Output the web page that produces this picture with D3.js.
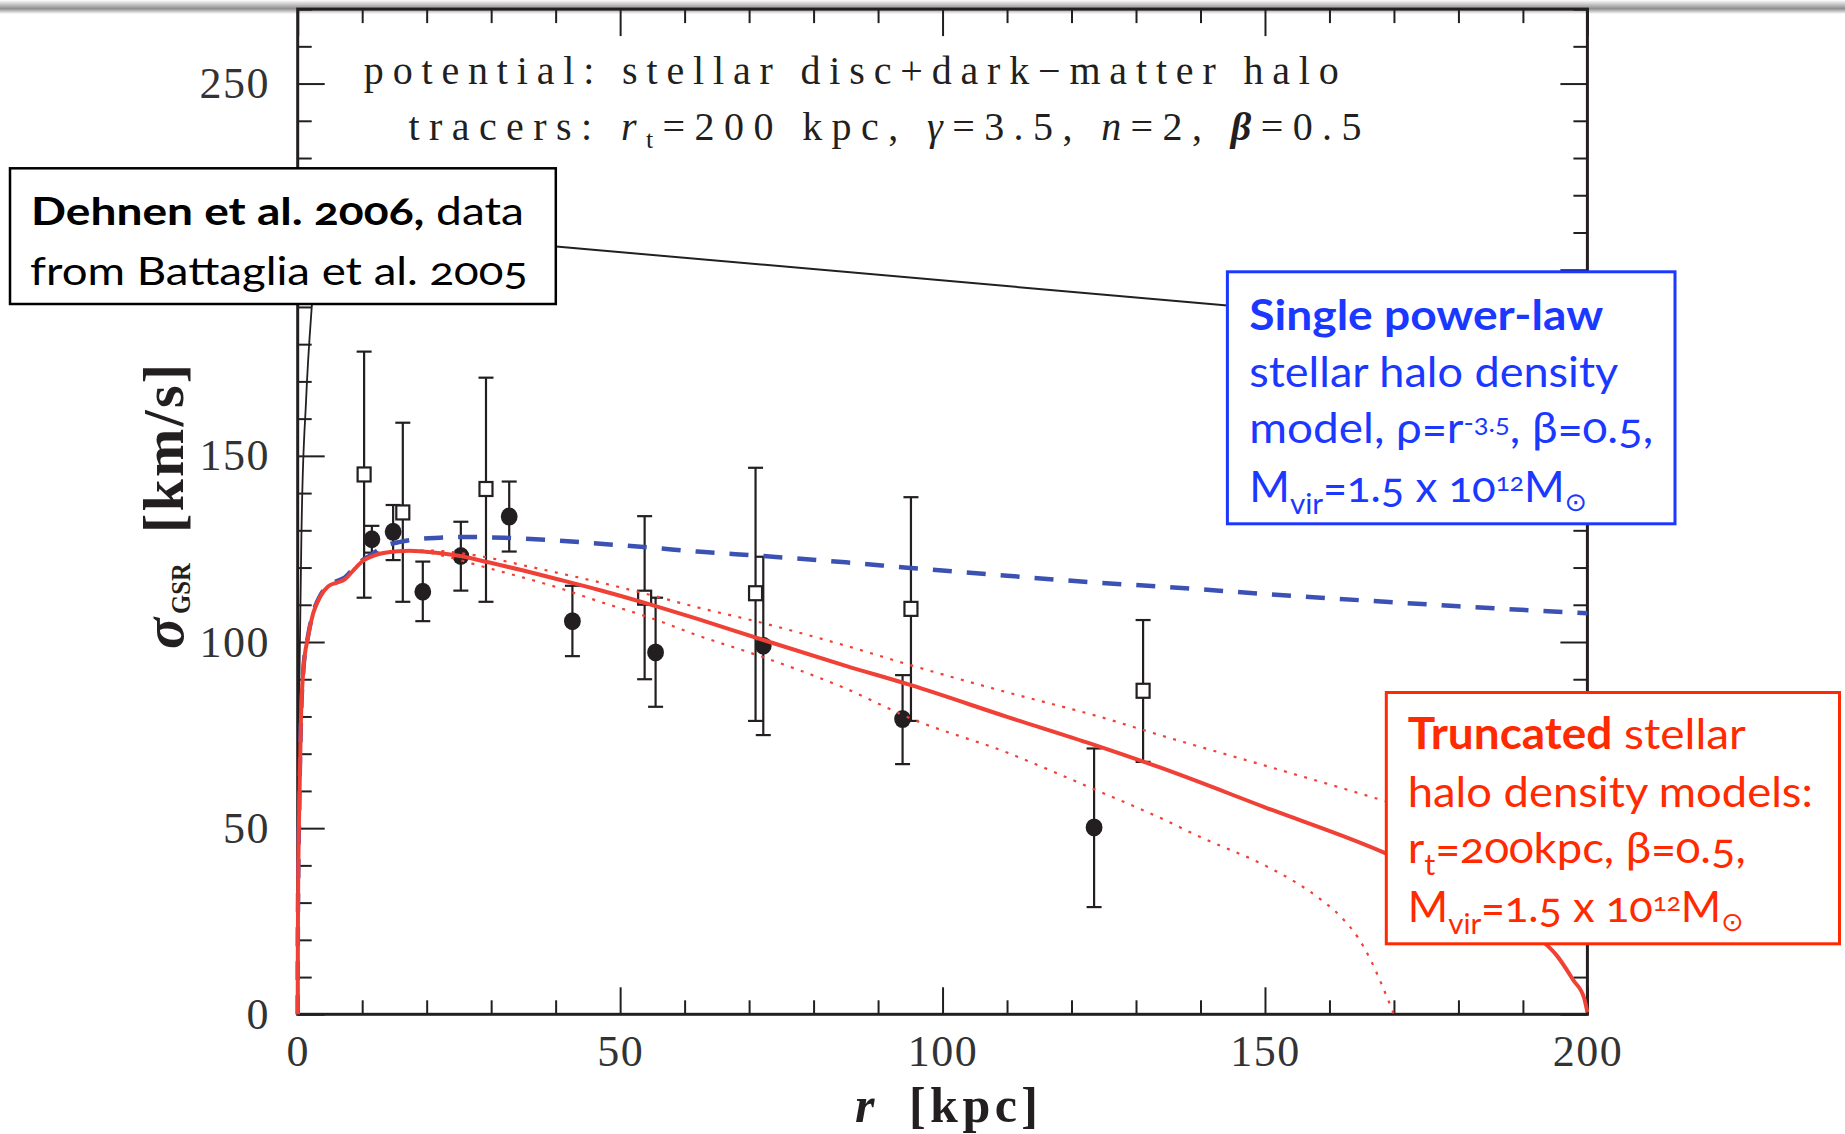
<!DOCTYPE html>
<html>
<head>
<meta charset="utf-8">
<script src="https://cdn.jsdelivr.net/npm/d3@7"></script>
<style>
  html, body { margin: 0; padding: 0; background: #fff; }
  svg { display: block; }
  .box text { font-family: Lato, "Open Sans", "Noto Sans", sans-serif; font-variant-numeric: oldstyle-nums; }
  .serif { font-family: "Liberation Serif", "DejaVu Serif", serif; }
  .pre { white-space: pre; }
</style>
</head>
<body>
<script>
// ---- measured velocity dispersion, GSR frame (r in kpc, sigma in km/s) ----
const filledR     = [11.5, 14.8, 19.4, 25.3, 32.8, 42.6, 55.5, 72.2, 93.8, 123.5];
const filledSigma = [127.6, 129.6, 113.5, 123.1, 133.7, 105.6, 97.2, 99.0, 79.3, 50.2];
const filledLow   = [124.0, 122.0, 105.6, 113.8, 124.3, 96.2, 82.6, 75.0, 67.2, 28.8];
const filledHigh  = [131.2, 136.8, 121.6, 132.3, 143.1, 115.1, 111.9, 122.9, 91.1, 71.4];

const openR     = [10.3, 16.3, 29.2, 53.8, 71.0, 95.1, 131.1];
const openSigma = [145.0, 134.8, 141.1, 111.9, 113.1, 108.9, 86.9];
const openLow   = [111.9, 110.8, 110.8, 90.0, 78.8, 78.8, 67.8];
const openHigh  = [178.0, 158.9, 171.0, 133.8, 146.8, 138.9, 105.9];

// ---- model curves: [r, sigma] ----
const innerRise = [[0,0],[0.05,43],[0.25,88],[0.62,132.7],[1.3,165],[2.2,190.5],[3.2,210],[4.0,222]];

const powerLawModel = [[0,0],[0.02,20],[0.1,40],[0.2,52],[0.5,79],[0.87,92.4],[1.6,101.6],[2.4,107.9],
  [3.5,112.5],[4.7,115.2],[6,116.3],[7.3,117.3],[8.6,119.6],[10,121.9],[11.2,123.2],[13.3,125.6],
  [15.9,126.9],[18.4,127.6],[22,128],[26,128.2],[32,128],[40,127.3],[46.9,126.4],[55,125.3],[62,124.3],
  [72,123.1],[85,121.4],[95,119.9],[110,117.8],[124.4,115.9],[133.7,114.9],[150,112.9],[165,111.2],
  [180,109.6],[200,107.7]];

const truncatedModel = [[0,0],[0.02,20],[0.1,40],[0.2,52],[0.5,79],[0.87,92.4],[1.6,101.4],[2.4,107.7],
  [3.5,112.2],[4.7,114.9],[6,115.9],[7.3,116.8],[8.6,119.2],[10.2,121.9],[11.8,123.2],[13.3,123.9],
  [15.5,124.4],[17.4,124.5],[19.4,124.3],[22.5,123.8],[25.2,123.1],[28.8,121.7],[35,119.2],[40,117],
  [46.9,113.9],[55,109.9],[62,106.2],[72.1,100.6],[85,93.6],[95.1,88.4],[110,79.9],[123.3,72.5],
  [133.7,66.3],[150,55.6],[168.9,43.1],[180,33.8],[188,25.6],[193.7,18.6],[195.2,15.9],[197.8,9.2],
  [199.5,4.3],[200,0.5]];

const truncatedUpper = [[17.4,124.5],[20,124.6],[22.5,124.4],[28.8,122.9],[35,120.6],[40,118.7],
  [46.9,116],[55,112.5],[62,109.3],[71.2,105.5],[85,99],[95,93.8],[110,86.5],[124.4,79.9],[133.7,75],
  [150,66.8],[168.9,57.1],[185,48],[200,38]];

const truncatedLower = [[17.4,124.5],[20,124.1],[22.5,123.2],[28.8,120.2],[35,117.3],[40,114.8],
  [46.9,110.8],[55,106.3],[62,101.8],[71.2,96.5],[85,87.5],[95,79.5],[110,70.3],[123.3,60.6],
  [133.7,52.8],[140,47.6],[150.2,39.8],[155,35.2],[159,30.4],[162,25.8],[164.5,20.4],[166.5,14.2],
  [168.2,7.6],[170,0]];

// ---- axes ----
const xMajor = [0, 50, 100, 150, 200];
const xMinor = d3.range(0, 201, 10).filter(v => v % 50 !== 0);
const yMajor = [0, 50, 100, 150, 200, 250];
const yLabelled = [0, 50, 100, 150, 250];   // 200 sits beneath the citation box
const yMinor = d3.range(0, 271, 10).filter(v => v % 50 !== 0);

// ---- annotation text ----
const headerLine1 = "potential:  stellar  disc+dark\u2212matter  halo";
const dehnenLines = [["Dehnen et al. 2006,", " data"], ["from Battaglia et al. 2005"]];

const W = 1845, H = 1134;
const ink = "#231f20";
const X0 = 297.7, X1 = 1587.4, Y0 = 1014.3, Y1 = 9.1;

const x = d3.scaleLinear().domain([0, 200]).range([X0, X1]);
const y = d3.scaleLinear().domain([0, 270]).range([Y0, Y1]);

const svg = d3.select("body").append("svg").attr("width", W).attr("height", H);

// soft edge along the top of the page
const defs = svg.append("defs");
const grad = defs.append("linearGradient").attr("id", "edge")
  .attr("x1", 0).attr("y1", 0).attr("x2", 0).attr("y2", 1);
grad.append("stop").attr("offset", 0).attr("stop-color", "#ffffff");
grad.append("stop").attr("offset", 0.62).attr("stop-color", "#8e8e8e");
grad.append("stop").attr("offset", 1).attr("stop-color", "#ffffff");
svg.append("rect").attr("x", 0).attr("y", 0).attr("width", W).attr("height", 14).attr("fill", "url(#edge)");

// ---- ticks on all four sides, pointing inward ----
const axes = svg.append("g");
function tickSet(gen, values, size, transform, fmt) {
  const g = axes.append("g").attr("transform", transform)
    .call(gen.tickValues(values).tickSize(size).tickSizeOuter(0).tickFormat(fmt || (() => "")));
  g.select(".domain").remove();
  g.selectAll(".tick line").attr("stroke", ink).attr("stroke-width", 2);
  return g;
}
const bottomMajor = tickSet(d3.axisBottom(x), xMajor, -27, `translate(0,${Y0})`, d3.format("d"));
tickSet(d3.axisBottom(x), xMinor, -14, `translate(0,${Y0})`);
tickSet(d3.axisTop(x), xMajor, -27, `translate(0,${Y1})`);
tickSet(d3.axisTop(x), xMinor, -14, `translate(0,${Y1})`);
const leftMajor = tickSet(d3.axisLeft(y), yMajor, -27, `translate(${X0},0)`,
  d => yLabelled.includes(d) ? String(d) : "");
tickSet(d3.axisLeft(y), yMinor, -14, `translate(${X0},0)`);
tickSet(d3.axisRight(y), yMajor, -27, `translate(${X1},0)`);
tickSet(d3.axisRight(y), yMinor, -14, `translate(${X1},0)`);

bottomMajor.attr("font-family", "Liberation Serif, DejaVu Serif, serif").attr("font-size", 44);
bottomMajor.selectAll(".tick text").attr("fill", "#333").attr("y", 1066 - Y0).attr("dy", null)
  .attr("letter-spacing", 1.5);
leftMajor.attr("font-family", "Liberation Serif, DejaVu Serif, serif").attr("font-size", 44);
leftMajor.selectAll(".tick text").attr("fill", "#333").attr("x", -27.7).attr("dy", "0.32em")
  .attr("letter-spacing", 1.5);

// frame
svg.append("rect").attr("x", X0).attr("y", Y1).attr("width", X1 - X0).attr("height", Y0 - Y1)
  .attr("fill", "none").attr("stroke", ink).attr("stroke-width", 3);

// ---- data points with error bars ----
const pts = svg.append("g").attr("stroke", ink).attr("stroke-width", 2.2);
function errorBars(rs, lo, hi) {
  rs.forEach((r, i) => {
    const cx = x(r);
    pts.append("line").attr("x1", cx).attr("x2", cx).attr("y1", y(lo[i])).attr("y2", y(hi[i]));
    [lo[i], hi[i]].forEach(v => pts.append("line")
      .attr("x1", cx - 7.5).attr("x2", cx + 7.5).attr("y1", y(v)).attr("y2", y(v)));
  });
}
errorBars(openR, openLow, openHigh);
errorBars(filledR, filledLow, filledHigh);
pts.selectAll("rect.open").data(openR).join("rect").attr("class", "open")
  .attr("x", d => x(d) - 6.5).attr("y", (d, i) => y(openSigma[i]) - 7)
  .attr("width", 13).attr("height", 14).attr("fill", "#fff");
pts.selectAll("ellipse.filled").data(filledR).join("ellipse").attr("class", "filled")
  .attr("cx", d => x(d)).attr("cy", (d, i) => y(filledSigma[i]))
  .attr("rx", 8.4).attr("ry", 9).attr("fill", ink).attr("stroke", "none");

// ---- model curves ----
const line = d3.line().x(d => x(d[0])).y(d => y(d[1])).curve(d3.curveMonotoneX);
const curves = svg.append("g").attr("fill", "none");
curves.append("path").attr("d", line(innerRise)).attr("stroke", ink).attr("stroke-width", 1.8);
curves.append("path").attr("d", line(powerLawModel)).attr("stroke", "#3b51b3")
  .attr("stroke-width", 4.5).attr("stroke-dasharray", "19,15");
curves.append("path").attr("d", line(truncatedUpper)).attr("stroke", "#ef4136")
  .attr("stroke-width", 2.2).attr("stroke-dasharray", "3,7.5");
curves.append("path").attr("d", line(truncatedLower)).attr("stroke", "#ef4136")
  .attr("stroke-width", 2.2).attr("stroke-dasharray", "3,7.5");
curves.append("path").attr("d", line(truncatedModel)).attr("stroke", "#ef4136")
  .attr("stroke-width", 4);

// ---- header inside the frame ----
const head = svg.append("g").attr("class", "serif pre").attr("fill", ink).attr("font-size", 40);
head.append("text").attr("x", 363.8).attr("y", 84)
  .attr("textLength", 975).attr("lengthAdjust", "spacing").text(headerLine1);
const h2 = head.append("text").attr("x", 408.5).attr("y", 140)
  .attr("textLength", 953).attr("lengthAdjust", "spacing");
h2.append("tspan").text("tracers:  ");
h2.append("tspan").attr("font-style", "italic").text("r");
h2.append("tspan").attr("font-size", 26).style("baseline-shift", "-8px").text("t");
h2.append("tspan").text("=200 kpc,  ");
h2.append("tspan").attr("font-style", "italic").text("\u03b3");
h2.append("tspan").text("=3.5,  ");
h2.append("tspan").attr("font-style", "italic").text("n");
h2.append("tspan").text("=2,  ");
h2.append("tspan").attr("font-style", "italic").attr("font-weight", "bold").text("\u03b2");
h2.append("tspan").text("=0.5");

// ---- axis titles ----
const xt = svg.append("g").attr("class", "serif").attr("font-weight", "bold").attr("fill", ink).attr("font-size", 50);
xt.append("text").attr("x", 855).attr("y", 1122).attr("font-style", "italic").text("r");
xt.append("text").attr("x", 909).attr("y", 1122).attr("textLength", 129).attr("lengthAdjust", "spacing").text("[kpc]");

const yt = svg.append("g").attr("class", "serif").attr("font-weight", "bold").attr("fill", ink)
  .attr("transform", "rotate(-90)");
yt.append("text").attr("x", -649).attr("y", 183).attr("font-size", 58).attr("font-style", "italic").text("\u03c3");
yt.append("text").attr("x", -614).attr("y", 190).attr("font-size", 27)
  .attr("textLength", 51).attr("lengthAdjust", "spacingAndGlyphs").text("GSR");
yt.append("text").attr("x", -533).attr("y", 183).attr("font-size", 58)
  .attr("textLength", 169).attr("lengthAdjust", "spacing").text("[km/s]");

// ---- connector between the two upper boxes ----
svg.append("line").attr("x1", 556).attr("y1", 246.5).attr("x2", 1227.4).attr("y2", 305.5)
  .attr("stroke", ink).attr("stroke-width", 2);

// ---- annotation boxes ----
function annotate(rect, color, strokeW, size, lines) {
  const g = svg.append("g").attr("class", "box");
  g.append("rect").attr("x", rect[0]).attr("y", rect[1]).attr("width", rect[2]).attr("height", rect[3])
    .attr("fill", "#fff").attr("stroke", color).attr("stroke-width", strokeW);
  lines.forEach(l => {
    const t = g.append("text").attr("x", l.x).attr("y", l.y).attr("font-size", size).attr("fill", color)
      .attr("textLength", l.len).attr("lengthAdjust", "spacingAndGlyphs").attr("class", "pre");
    l.parts.forEach(p => {
      const s = t.append("tspan").text(p.t);
      if (p.bold) s.attr("font-weight", "bold");
      if (p.sub) s.attr("font-size", size * 0.68).style("baseline-shift", "-12px");
      if (p.sup) s.attr("font-size", size * 0.6).style("baseline-shift", "11px");
      if (p.sun) s.attr("font-size", size * 0.62).style("font-family", "DejaVu Sans").style("baseline-shift", "-9px");
    });
  });
}

annotate([10, 168.3, 545.8, 135.7], "#000", 2.5, 38, [
  { x: 31, y: 225, len: 493, parts: [{ t: dehnenLines[0][0], bold: true }, { t: dehnenLines[0][1] }] },
  { x: 30, y: 285, len: 498, parts: [{ t: dehnenLines[1][0] }] }
]);

const blue = "#1a38ff";
annotate([1227.4, 271.8, 447.6, 252], blue, 3, 42, [
  { x: 1249.3, y: 330, len: 354, parts: [{ t: "Single power-law", bold: true }] },
  { x: 1249.3, y: 386.7, len: 369, parts: [{ t: "stellar halo density" }] },
  { x: 1249.3, y: 443.3, len: 404, parts: [{ t: "model, \u03c1=r" }, { t: "-3.5", sup: true }, { t: ", \u03b2=0.5," }] },
  { x: 1249.3, y: 501.7, len: 338, parts: [{ t: "M" }, { t: "vir", sub: true }, { t: "=1.5 x 10" },
      { t: "12", sup: true }, { t: "M" }, { t: "\u2299", sun: true }] }
]);

const red = "#ff2a00";
annotate([1386.3, 692.5, 453.2, 251.3], red, 3, 43, [
  { x: 1407.8, y: 749.3, len: 338, parts: [{ t: "Truncated", bold: true }, { t: " stellar" }] },
  { x: 1407.8, y: 806.7, len: 405, parts: [{ t: "halo density models:" }] },
  { x: 1407.8, y: 863.3, len: 338, parts: [{ t: "r" }, { t: "t", sub: true }, { t: "=200kpc, \u03b2=0.5," }] },
  { x: 1407.8, y: 921.7, len: 336, parts: [{ t: "M" }, { t: "vir", sub: true }, { t: "=1.5 x 10" },
      { t: "12", sup: true }, { t: "M" }, { t: "\u2299", sun: true }] }
]);
</script>
</body>
</html>
